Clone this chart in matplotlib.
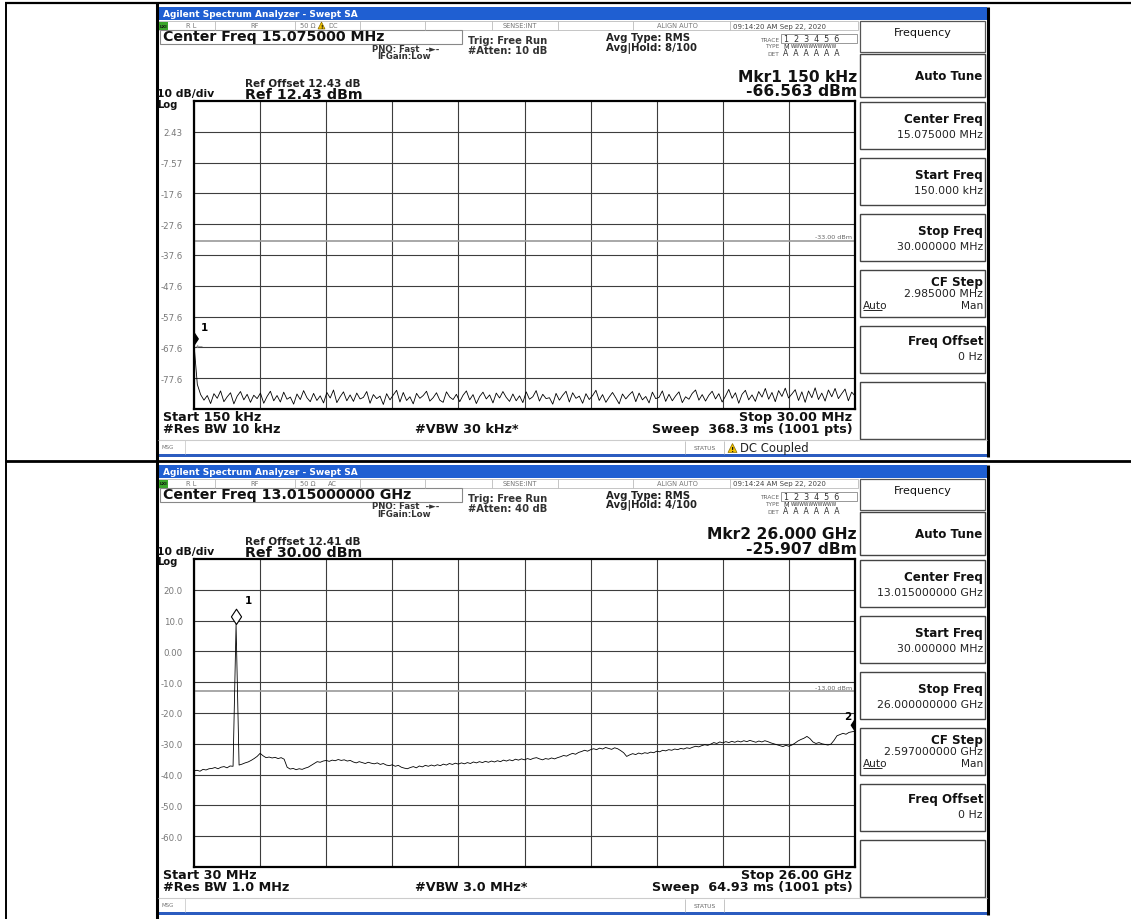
import numpy as np
import matplotlib.pyplot as plt
from matplotlib.patches import Rectangle, Polygon
from matplotlib.path import Path

plt.rcParams['font.family'] = ['DejaVu Sans']

W, H = 1131, 920

# ---------------- data ----------------
ref_1, ref_2 = 12.43, 30.0              # reference level (top of grid), dBm
start_1, stop_1 = 0.15, 30.0            # MHz
start_2, stop_2 = 0.03, 26.0            # GHz
limit_1, limit_2 = -33.0, -13.0         # display lines, dBm
ylab_1 = ["2.43", "-7.57", "-17.6", "-27.6", "-37.6", "-47.6", "-57.6", "-67.6", "-77.6"]
ylab_2 = ["20.0", "10.0", "0.00", "-10.0", "-20.0", "-30.0", "-40.0", "-50.0", "-60.0"]

# trace 1 : 150 kHz .. 30 MHz, noise floor
trace_1 = [
    -66.56, -79.6, -82.9, -84.7, -83.2, -85.8, -82.6, -84.1, -81.7, -85.2,
    -83.6, -82.3, -85.9, -83.4, -81.9, -84.6, -82.8, -85.4, -83.1, -84.2,
    -82.4, -85.7, -83.5, -81.8, -84.9, -83.2, -85.3, -82.1, -84.4, -83.7,
    -86.0, -82.7, -84.5, -81.6, -83.9, -85.2, -82.5, -84.8, -83.3, -85.6,
    -82.2, -84.0, -81.4, -85.5, -83.6, -82.0, -84.9, -83.0, -85.1, -82.4,
    -84.3, -83.8, -81.9, -85.7, -82.9, -84.2, -83.4, -86.1, -82.6, -84.6,
    -83.0, -81.5, -85.3, -82.2, -84.8, -83.6, -85.9, -82.5, -84.1, -83.2,
    -81.8, -85.0, -83.9, -82.3, -84.7, -85.4, -82.0, -83.7, -84.5, -82.8,
    -85.2, -83.1, -81.7, -84.6, -82.9, -85.8, -83.5, -82.1, -84.3, -83.0,
    -85.6, -82.4, -84.0, -81.9, -83.8, -85.1, -82.7, -84.9, -83.3, -85.5,
    -82.0, -84.4, -83.6, -81.6, -85.0, -82.8, -84.2, -83.9, -86.0, -82.5,
    -84.7, -83.1, -81.8, -85.3, -82.3, -84.1, -83.4, -85.7, -82.6, -84.5,
    -83.2, -81.5, -84.8, -82.9, -85.4, -83.7, -82.2, -84.0, -85.9, -82.7,
    -84.3, -83.0, -81.9, -85.2, -82.4, -84.6, -83.5, -85.6, -82.1, -84.2,
    -83.8, -81.7, -85.1, -82.8, -84.9, -83.3, -82.0, -85.5, -83.6, -84.4,
    -82.5, -81.4, -84.7, -82.9, -85.0, -83.1, -81.8, -84.3, -82.6, -85.3,
    -83.4, -81.2, -84.1, -82.3, -85.7, -82.8, -81.5, -84.6, -83.0, -85.1,
    -81.9, -83.7, -80.9, -84.4, -82.2, -85.2, -81.6, -83.5, -80.8, -84.0,
    -82.7, -81.3, -84.8, -82.0, -85.4, -81.7, -83.9, -80.7, -84.5, -82.4,
    -85.0, -81.4, -83.6, -80.9, -84.2, -82.6, -81.1, -84.9, -82.1, -83.3,
]

# trace 2 : 30 MHz .. 26 GHz, carrier near 1.7 GHz then slowly rising floor
trace_2 = [
    -38.8, -38.6, -38.9, -38.3, -38.5, -38.1, -38.0, -37.7, -38.1, -37.6,
    -37.4, -37.8, -37.2, -37.3, 8.8, -36.9, -36.6, -36.2, -35.9, -35.4,
    -34.8, -34.1, -33.1, -33.9, -34.5, -34.3, -34.6, -34.4, -34.8, -34.5,
    -35.0, -37.6, -38.2, -38.0, -38.4, -38.1, -38.3, -37.9, -37.6, -37.0,
    -36.4, -35.8, -36.0, -35.6, -35.4, -35.7, -35.3, -35.5, -35.1, -35.4,
    -35.2, -35.6, -35.4, -35.9, -36.2, -35.8, -36.1, -36.4, -36.0, -36.3,
    -36.5, -36.2, -36.7, -36.4, -36.9, -37.1, -36.8, -37.3, -37.0, -37.6,
    -37.9, -38.1, -37.7, -37.4, -37.8, -37.2, -37.5, -37.0, -37.3, -36.9,
    -37.2, -36.8, -37.1, -36.6, -36.9, -36.4, -36.7, -36.3, -36.6, -36.2,
    -36.5, -36.1, -36.4, -35.9, -36.2, -35.8, -36.1, -35.7, -36.0, -35.6,
    -35.9, -35.5, -35.8, -35.3, -35.6, -35.2, -35.5, -35.0, -35.3, -34.9,
    -35.2, -34.8, -35.1, -34.7, -34.5, -34.9, -35.2, -34.8, -35.0, -34.6,
    -34.9, -34.5, -34.2, -33.8, -34.0, -33.5, -33.1, -33.4, -32.8, -32.5,
    -32.1, -32.4, -31.9, -31.6, -31.9, -31.4, -31.7, -31.2, -31.5, -31.8,
    -31.3, -31.6, -32.2, -32.9, -34.1, -33.6, -33.2, -33.5, -33.0, -33.3,
    -32.9, -33.1, -32.7, -32.9, -32.4, -32.6, -32.1, -32.3, -31.9, -32.1,
    -31.7, -31.9, -31.5, -31.7, -31.3, -31.5, -31.1, -30.8, -31.0, -30.6,
    -30.3, -30.5, -30.1, -29.6, -29.9, -29.4, -29.7, -29.3, -29.6, -29.2,
    -29.5, -29.1, -29.4, -29.0, -29.3, -28.9, -29.2, -29.5, -29.1, -29.4,
    -29.0, -29.3, -29.7, -30.0, -30.3, -30.6, -30.9, -30.5, -30.8, -30.4,
    -29.8, -29.1, -28.6, -28.2, -27.6, -28.3, -29.4, -29.9, -29.6, -30.0,
    -30.2, -30.4, -30.1, -28.9, -27.4, -27.0, -26.6, -26.9, -26.3, -26.1,
    -25.9,
]

info_1 = dict(center="Center Freq 15.075000 MHz", atten="#Atten: 10 dB", hold="Avg|Hold: 8/100",
              time="09:14:20 AM Sep 22, 2020", coupling="DC", offset="Ref Offset 12.43 dB",
              ref="Ref 12.43 dBm", mkr="Mkr1 150 kHz", mval="-66.563 dBm",
              start="Start 150 kHz", rbw="#Res BW 10 kHz", vbw="#VBW 30 kHz*",
              stop="Stop 30.00 MHz", sweep="Sweep  368.3 ms (1001 pts)", dc=True,
              keys=["15.075000 MHz", "150.000 kHz", "30.000000 MHz", "2.985000 MHz", "0 Hz"])
info_2 = dict(center="Center Freq 13.015000000 GHz", atten="#Atten: 40 dB", hold="Avg|Hold: 4/100",
              time="09:14:24 AM Sep 22, 2020", coupling="AC", offset="Ref Offset 12.41 dB",
              ref="Ref 30.00 dBm", mkr="Mkr2 26.000 GHz", mval="-25.907 dBm",
              start="Start 30 MHz", rbw="#Res BW 1.0 MHz", vbw="#VBW 3.0 MHz*",
              stop="Stop 26.00 GHz", sweep="Sweep  64.93 ms (1001 pts)", dc=False,
              keys=["13.015000000 GHz", "30.000000 MHz", "26.000000000 GHz", "2.597000000 GHz", "0 Hz"])

fig = plt.figure(figsize=(W / 100, H / 100), dpi=100)
bg = fig.add_axes([0, 0, 1, 1])
bg.set_xlim(0, W)
bg.set_ylim(H, 0)
bg.axis('off')


def txt(x, y, s, size, **kw):
    kw.setdefault('va', 'center')
    kw.setdefault('color', '#111111')
    bg.text(x, y, s, fontsize=size, **kw)


def hline(x0, x1, y, c='#999999', lw=0.6):
    bg.plot([x0, x1], [y, y], color=c, lw=lw, solid_capstyle='butt')


def vline(x, y0, y1, c='#999999', lw=0.6):
    bg.plot([x, x], [y0, y1], color=c, lw=lw, solid_capstyle='butt')


def warn(x, y, s=8):
    bg.add_patch(Polygon([(x, y + s / 2), (x + s / 2, y - s / 2), (x + s, y + s / 2)],
                         closed=True, fc='#f2c200', ec='#8a6d00', lw=0.5))
    txt(x + s / 2, y + 1, '!', s * 0.55, ha='center', weight='bold')


# table lines
hline(5, W, 3.5, 'black', 1.6)
hline(5, W, 461.5, 'black', 2.0)
vline(5.5, 3, H, 'black', 1.4)
vline(157, 3, H, 'black', 2.2)


def draw_frame(dy, d):
    bg.add_patch(Rectangle((158, 7 + dy), 830, 451, fc='white', ec='none'))
    bg.add_patch(Rectangle((158, 8 + dy), 829, 13, fc='#1f5fd2', ec='none'))
    txt(163, 14.5 + dy, 'Agilent Spectrum Analyzer - Swept SA', 6.5, color='white', weight='bold')
    bg.add_patch(Rectangle((158, 455 + dy), 829, 3, fc='#2b5cc0', ec='none'))
    vline(987.5, 8 + dy, 458 + dy, 'black', 2.2)

    # status row
    bg.add_patch(Rectangle((159, 22 + dy), 699, 9, fc='white', ec='#bbbbbb', lw=0.6))
    for xs in [215, 295, 360, 425, 492, 558, 633, 730]:
        vline(xs, 22 + dy, 31 + dy, '#bbbbbb')
    bg.add_patch(Rectangle((159, 22.5 + dy), 9, 8, fc='#3aa52a', ec='none'))
    txt(163.5, 26.5 + dy, 'LXI', 3.2, ha='center', weight='bold')
    txt(186, 26.5 + dy, 'R L', 4.8, color='#777777')
    txt(250, 26.5 + dy, 'RF', 4.8, color='#777777')
    txt(300, 26.5 + dy, '50 Ω', 4.8, color='#777777')
    if d['dc']:
        warn(318, 26.5 + dy, 7)
    txt(328, 26.5 + dy, d['coupling'], 4.8, color='#777777')
    txt(503, 26.5 + dy, 'SENSE:INT', 4.8, color='#777777')
    txt(657, 26.5 + dy, 'ALIGN AUTO', 4.8, color='#777777')
    txt(733, 26.5 + dy, d['time'], 5.0, color='#444444')

    # header
    bg.add_patch(Rectangle((160, 31 + dy), 302, 13.5, fc='none', ec='#888888', lw=0.8))
    txt(163, 37.5 + dy, d['center'], 10.2, weight='bold')
    txt(372, 49 + dy, 'PNO: Fast  -►-', 6.2, weight='bold', color='#333333')
    txt(377, 56.5 + dy, 'IFGain:Low', 6.2, weight='bold', color='#333333')
    txt(468, 41 + dy, 'Trig: Free Run', 7.2, weight='bold', color='#333333')
    txt(468, 51 + dy, d['atten'], 7.2, weight='bold', color='#333333')
    txt(606, 38 + dy, 'Avg Type: RMS', 7.3, weight='bold', color='#222222')
    txt(606, 48 + dy, d['hold'], 7.3, weight='bold', color='#222222')
    txt(779, 40 + dy, 'TRACE', 4.2, ha='right', color='#666666')
    txt(779, 47 + dy, 'TYPE', 4.2, ha='right', color='#666666')
    txt(779, 54 + dy, 'DET', 4.2, ha='right', color='#666666')
    bg.add_patch(Rectangle((781, 35 + dy), 76, 9, fc='none', ec='#888888', lw=0.6))
    txt(784, 40 + dy, '1  2  3  4  5  6', 5.8, color='#333333')
    txt(783, 47 + dy, 'M', 4.8, color='#333333')
    txt(791, 47 + dy, 'WWWWWWWWWW', 3.3, color='#333333')
    txt(783, 54 + dy, 'A  A  A  A  A  A', 5.6, color='#333333')
    txt(245, 84 + dy, d['offset'], 7.5, weight='bold', color='#222222')
    txt(245, 95 + dy, d['ref'], 10.3, weight='bold')
    txt(157, 94.5 + dy, '10 dB/div', 7.8, weight='bold')
    txt(157, 104.5 + dy, 'Log', 7.2, weight='bold')
    txt(857, 77 + dy, d['mkr'], 11.2, ha='right', weight='bold')
    txt(857, 92 + dy, d['mval'], 11.2, ha='right', weight='bold')

    # footer
    txt(163, 418 + dy, d['start'], 9.2, weight='bold')
    txt(163, 429.5 + dy, d['rbw'], 9.2, weight='bold')
    txt(415, 429.5 + dy, d['vbw'], 9.2, weight='bold')
    txt(852, 418 + dy, d['stop'], 9.2, ha='right', weight='bold')
    txt(853, 430 + dy, d['sweep'], 9.2, ha='right', weight='bold')
    hline(158, 987, 441 + dy, '#cccccc', 0.8)
    vline(185, 441 + dy, 455 + dy, '#cccccc')
    txt(161, 448 + dy, 'MSG', 4.0, color='#777777')
    vline(685, 442 + dy, 455 + dy, '#bbbbbb')
    vline(724, 442 + dy, 455 + dy, '#bbbbbb')
    txt(704.5, 449 + dy, 'STATUS', 4.3, ha='center', color='#666666')
    if d['dc']:
        warn(728, 449 + dy, 9)
        txt(740, 449 + dy, 'DC Coupled', 8.4, color='#222222')

    # softkey panel
    bg.add_patch(Rectangle((860, 22 + dy), 125, 31, fc='white', ec='#555555', lw=0.9))
    txt(922.5, 33 + dy, 'Frequency', 8, ha='center')
    tops = [55, 103, 159, 215, 271, 327, 383]
    hts = [43, 47, 47, 47, 47, 47, 57]
    for t, h in zip(tops, hts):
        bg.add_patch(Rectangle((860, t + dy), 125, h, fc='white', ec='#444444', lw=1.0))
    txt(982, 77 + dy, 'Auto Tune', 8.6, ha='right', weight='bold')
    names = ['Center Freq', 'Start Freq', 'Stop Freq', 'CF Step', 'Freq Offset']
    name_y = [120, 176, 232, 283, 342]
    for nm, ny, val in zip(names, name_y, d['keys']):
        txt(983, ny + dy, nm, 8.6, ha='right', weight='bold')
        vy = ny + (11 if nm == 'CF Step' else 15) + dy
        txt(983, vy, val, 7.8, ha='right', color='#222222')
    txt(863, 306 + dy, 'Auto', 7.6, color='#222222')
    hline(863, 882, 311 + dy, '#222222', 0.7)
    txt(983, 306 + dy, 'Man', 7.6, ha='right', color='#222222')


def spectrum_axes(top, ref, start, stop, ylabels, limit):
    ax = fig.add_axes([194 / W, 1 - (top + 308) / H, 661 / W, 308 / H])
    ax.set_facecolor('white')
    ax.set_xlim(start, stop)
    ax.set_ylim(ref - 100, ref)
    ax.set_xticks(np.linspace(start, stop, 11))
    ax.set_xticklabels([])
    ax.set_yticks([ref - 10 * (k + 1) for k in range(9)], ylabels)
    ax.tick_params(length=0, labelsize=6.2, labelcolor='#777777', pad=8)
    ax.set_axisbelow(True)
    ax.grid(color='#3d3d3d', lw=0.8)
    for s in ax.spines.values():
        s.set_linewidth(1.6)
        s.set_color('black')
    ax.axhline(limit, color='#9a9a9a', lw=1.2, zorder=1)
    ax.text(0.995, limit + 0.6, f'{limit:.2f} dBm', transform=ax.get_yaxis_transform(),
            ha='right', va='bottom', fontsize=4.6, color='#666666')
    return ax


# marker shape: diamond standing on its lower tip (the trace point)
diamond = Path([(0, 0), (-0.8, 1.2), (0, 2.4), (0.8, 1.2), (0, 0)],
               [Path.MOVETO, Path.LINETO, Path.LINETO, Path.LINETO, Path.CLOSEPOLY])

draw_frame(0, info_1)
draw_frame(458, info_2)

ax1 = spectrum_axes(102, ref_1, start_1, stop_1, ylab_1, limit_1)
f1 = np.linspace(start_1, stop_1, len(trace_1))
ax1.plot(f1, trace_1, color='black', lw=0.6, zorder=3)
ax1.plot(f1[0], trace_1[0], marker=diamond, ms=16, color='black', zorder=4)
ax1.annotate('1', (f1[0], trace_1[0]), xytext=(5, 10), textcoords='offset points',
             fontsize=7.5, weight='bold')
ax1.annotate('←', (f1[0], trace_1[0]), xytext=(1, -1), textcoords='offset points',
             fontsize=6, color='#888888', va='center')

ax2 = spectrum_axes(560, ref_2, start_2, stop_2, ylab_2, limit_2)
f2 = np.linspace(start_2, stop_2, len(trace_2))
ax2.plot(f2, trace_2, color='black', lw=0.6, zorder=3)
ipk = int(np.argmax(trace_2))
ax2.plot(f2[ipk], trace_2[ipk], marker=diamond, ms=22, mfc='white', mec='black', mew=0.8, zorder=4)
ax2.annotate('1', (f2[ipk], trace_2[ipk]), xytext=(6, 15), textcoords='offset points',
             fontsize=7.5, weight='bold')
ax2.plot(f2[-1], trace_2[-1], marker=diamond, ms=18, color='black', zorder=4)
ax2.annotate('2', (f2[-1], trace_2[-1]), xytext=(-8, 9), textcoords='offset points',
             fontsize=7.5, weight='bold')

fig.savefig('out.png', dpi=100)
